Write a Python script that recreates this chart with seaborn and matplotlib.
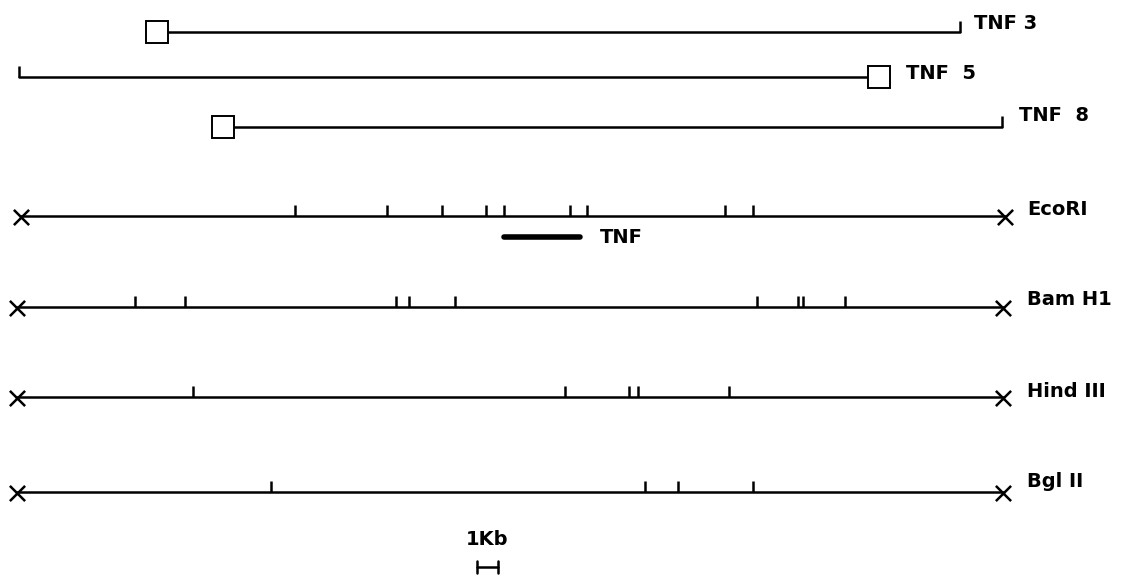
import numpy as np
import pandas as pd
import matplotlib
matplotlib.use("Agg")
import matplotlib.pyplot as plt
import seaborn as sns

# clones: name, line start, line end, box position, y
clone_names = ["TNF 3", "TNF  5", "TNF  8"]
clone_start = [157, 19, 223]
clone_end = [960, 879, 1002]
clone_box = [157, 879, 223]
clone_y = [32, 77, 127]

# restriction maps (positions on the same horizontal scale)
enzyme_names = ["EcoRI", "Bam H1", "Hind III", "Bgl II"]
enzyme_y = [216, 307, 397, 492]
map_start = [21, 17, 17, 17]
map_end = [1005, 1003, 1003, 1003]
sites = {
    "EcoRI": [295, 387, 442, 486, 504, 570, 587, 725, 753],
    "Bam H1": [135, 185, 396, 409, 455, 757, 798, 803, 845],
    "Hind III": [193, 565, 629, 638, 729],
    "Bgl II": [271, 645, 678, 753],
}

# TNF gene and scale bar
tnf_gene = [504, 580]
scale_bar = [477, 498]  # 1 Kb

sns.set_style("white")
plt.rcParams['font.family'] = ['DejaVu Sans']
plt.rcParams['text.color'] = 'black'

fig = plt.figure(figsize=(11.28, 5.77), dpi=100)
ax = fig.add_axes([0, 0, 1, 1])
ax.set_xlim(0, 1128)
ax.set_ylim(577, 0)
ax.axis("off")

lw = 1.8
tick_h = 11
fs = 14

# clones
label_x = [974, 906, 1019]
label_base = [29, 79, 121]
for name, x0, x1, bx, y, lx, lb in zip(clone_names, clone_start, clone_end, clone_box, clone_y, label_x, label_base):
    seg = pd.DataFrame({"x": [x0, x1], "y": [y, y]})
    sns.lineplot(data=seg, x="x", y="y", color="black", lw=lw, ax=ax, sort=False)
    other = x1 if bx == x0 else x0
    ax.plot([other, other], [y, y - tick_h], color="black", lw=lw, solid_capstyle="butt")
    ax.plot([bx], [y], marker="s", ms=15.5, mfc="white", mec="black", mew=1.4, zorder=5)
    ax.text(lx, lb, name, fontsize=fs, fontweight="bold", va="baseline", ha="left")

# restriction maps
enzyme_base = [215, 305, 397, 487]
for name, y, x0, x1, lb in zip(enzyme_names, enzyme_y, map_start, map_end, enzyme_base):
    seg = pd.DataFrame({"x": [x0, x1], "y": [y, y]})
    sns.lineplot(data=seg, x="x", y="y", color="black", lw=lw, ax=ax, sort=False)
    sns.scatterplot(x=[x0, x1], y=[y + 1, y + 1], marker="x", s=120, color="black", linewidth=1.8, ax=ax)
    for s in sites[name]:
        ax.plot([s, s], [y, y - tick_h], color="black", lw=lw, solid_capstyle="butt")
    ax.text(1027, lb, name, fontsize=fs, fontweight="bold", va="baseline", ha="left")

# TNF gene bar
ax.plot(tnf_gene, [237, 237], color="black", lw=4, solid_capstyle="round")
ax.text(600, 243, "TNF", fontsize=fs, fontweight="bold", va="baseline", ha="left")

# scale bar
ax.plot(scale_bar, [567, 567], color="black", lw=lw)
for s in scale_bar:
    ax.plot([s, s], [561, 573], color="black", lw=lw)
ax.text(np.mean(scale_bar), 545, "1Kb", fontsize=fs, fontweight="bold", va="baseline", ha="center")

if ax.get_legend() is not None:
    ax.get_legend().remove()

fig.savefig("out.png", dpi=100)
